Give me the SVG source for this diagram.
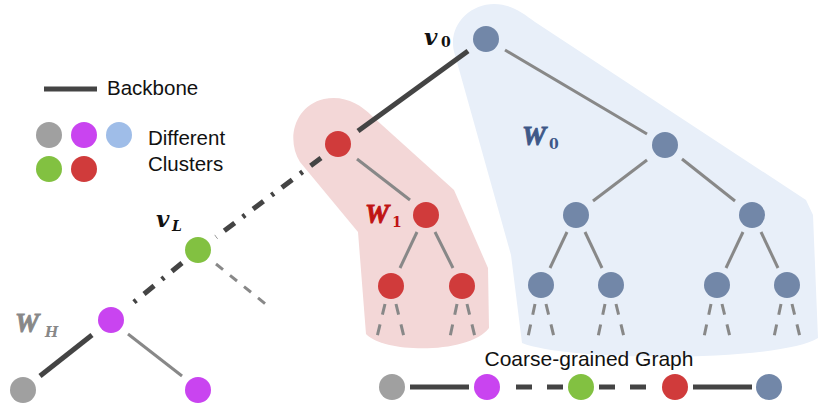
<svg xmlns="http://www.w3.org/2000/svg" width="820" height="414" viewBox="0 0 820 414">
  <style>
    .sans { font-family: "Liberation Sans", Arial, sans-serif; fill: #111; }
    .math { font-family: "DejaVu Serif", "Liberation Serif", serif; font-weight: bold; font-style: italic; }
    .mathw { font-family: "Liberation Serif", "Times New Roman", serif; font-weight: bold; font-style: italic; stroke-width: 0.9; }
    .sub { font-family: "DejaVu Serif", "Liberation Serif", serif; font-weight: bold; }
    .bb { stroke: #444; stroke-width: 5; fill: none; }
    .bbd { stroke: #444; stroke-width: 5; fill: none; stroke-dasharray: 13 10 3 10; }
    .tr { stroke: #888; stroke-width: 3; fill: none; }
    .trd { stroke: #888; stroke-width: 3; fill: none; stroke-dasharray: 11 10; }
    .gray { fill: #a0a0a0; }
    .mag { fill: #c944f0; }
    .lblue { fill: #9fbde8; }
    .green { fill: #82c141; }
    .red { fill: #d03b3b; }
    .blue { fill: #7287a8; }
  </style>

  <!-- cluster regions -->
  <g id="cluster-w0">
    <path d="M 455 55 C 446 28 468 4 494 4 C 510 4 522 12 535 22 L 806 200 L 813 215 L 818 338 C 780 362 570 362 522 343 L 511 255 L 490 180 Z" fill="#e8eff9"/>
  </g>
  <g id="cluster-w1">
    <path d="M 300 162 C 286 140 294 106 324 99 C 344 95 360 104 372 116 L 454 190 L 488 268 L 489 328 C 470 354 385 354 366 334 L 358 232 Z" fill="#f3d7d7"/>
  </g>

  <!-- legend -->
  <g id="legend">
    <line x1="44" y1="89" x2="97" y2="89" class="bb"/>
    <text x="107" y="95" class="sans" font-size="20.5">Backbone</text>
    <circle cx="49" cy="135" r="13" class="gray"/>
    <circle cx="84" cy="135" r="13" class="mag"/>
    <circle cx="119" cy="135" r="13" class="lblue"/>
    <circle cx="49" cy="169" r="13" class="green"/>
    <circle cx="84" cy="169" r="13" class="red"/>
    <text x="148" y="145" class="sans" font-size="20.5">Different</text>
    <text x="148" y="171" class="sans" font-size="20.5">Clusters</text>
  </g>

  <!-- connectors -->
  <g id="connectors">
    <!-- backbone -->
    <line x1="468" y1="51" x2="358" y2="131" class="bb"/>
    <line x1="321" y1="158" x2="216" y2="237" class="bbd"/>
    <line x1="182" y1="263" x2="128" y2="307" class="bbd"/>
    <line x1="92" y1="335" x2="40" y2="376" class="bb"/>
    <!-- side branches near the bottom -->
    <line x1="128" y1="334" x2="182" y2="376" class="tr"/>
    <line x1="216" y1="264" x2="268" y2="306" class="tr" stroke-dasharray="9 9"/>
    <!-- blue tree -->
    <line x1="505" y1="50" x2="647" y2="134" class="tr"/>
    <line x1="647" y1="160" x2="593" y2="201" class="tr"/>
    <line x1="682" y1="159" x2="735" y2="201" class="tr"/>
    <line x1="567" y1="232" x2="550" y2="268" class="tr"/>
    <line x1="585" y1="232" x2="602" y2="268" class="tr"/>
    <line x1="743" y1="232" x2="726" y2="268" class="tr"/>
    <line x1="761" y1="232" x2="778" y2="268" class="tr"/>
    <!-- red tree -->
    <line x1="357" y1="159" x2="410" y2="200" class="tr"/>
    <line x1="417" y1="232" x2="400" y2="268" class="tr"/>
    <line x1="435" y1="232" x2="453" y2="268" class="tr"/>
    <!-- leaf stubs -->
    <g class="trd">
      <line x1="385" y1="304" x2="377" y2="337"/>
      <line x1="396" y1="304" x2="404" y2="337"/>
      <line x1="457" y1="304" x2="450" y2="337"/>
      <line x1="467" y1="304" x2="475" y2="337"/>
      <line x1="535" y1="304" x2="528" y2="337"/>
      <line x1="546" y1="304" x2="554" y2="337"/>
      <line x1="605" y1="304" x2="598" y2="337"/>
      <line x1="616" y1="304" x2="624" y2="337"/>
      <line x1="711" y1="304" x2="704" y2="337"/>
      <line x1="722" y1="304" x2="730" y2="337"/>
      <line x1="781" y1="304" x2="774" y2="337"/>
      <line x1="792" y1="304" x2="800" y2="337"/>
    </g>
    <!-- coarse-grained chain -->
    <line x1="410" y1="387" x2="469" y2="387" class="bb"/>
    <line x1="516" y1="387" x2="564" y2="387" class="bb" stroke-dasharray="16 15"/>
    <line x1="599" y1="387" x2="658" y2="387" class="bb" stroke-dasharray="16 15"/>
    <line x1="693" y1="387" x2="752" y2="387" class="bb"/>
  </g>

  <!-- tree nodes -->
  <g id="node-v0"><circle cx="486" cy="39" r="13" class="blue"/></g>
  <g id="node-b1"><circle cx="665" cy="145" r="13" class="blue"/></g>
  <g id="node-b2"><circle cx="576" cy="215" r="13" class="blue"/></g>
  <g id="node-b3"><circle cx="752" cy="215" r="13" class="blue"/></g>
  <g id="node-b4"><circle cx="541" cy="285" r="13" class="blue"/></g>
  <g id="node-b5"><circle cx="611" cy="285" r="13" class="blue"/></g>
  <g id="node-b6"><circle cx="717" cy="285" r="13" class="blue"/></g>
  <g id="node-b7"><circle cx="787" cy="285" r="13" class="blue"/></g>
  <g id="node-r0"><circle cx="338" cy="144" r="13" class="red"/></g>
  <g id="node-r1"><circle cx="426" cy="215" r="13" class="red"/></g>
  <g id="node-r2"><circle cx="391" cy="286" r="13" class="red"/></g>
  <g id="node-r3"><circle cx="462" cy="286" r="13" class="red"/></g>
  <g id="node-vL"><circle cx="198" cy="250" r="13" class="green"/></g>
  <g id="node-m0"><circle cx="111" cy="320" r="13" class="mag"/></g>
  <g id="node-g0"><circle cx="23" cy="390" r="13" class="gray"/></g>
  <g id="node-m1"><circle cx="198" cy="390" r="13" class="mag"/></g>

  <!-- coarse-grained graph -->
  <g id="coarse-graph">
    <text x="589" y="366" class="sans" font-size="21" text-anchor="middle">Coarse-grained Graph</text>
    <circle cx="392" cy="387" r="13" class="gray"/>
    <circle cx="487" cy="387" r="13" class="mag"/>
    <circle cx="581" cy="387" r="13" class="green"/>
    <circle cx="675" cy="387" r="13" class="red"/>
    <circle cx="769" cy="387" r="13" class="blue"/>
  </g>

  <!-- labels -->
  <g id="labels">
    <text x="424" y="45" class="math" font-size="23" fill="#111">v</text>
    <text x="441" y="47" class="sub" font-size="14" fill="#111">0</text>
    <text x="156" y="227" class="math" font-size="23" fill="#111">v</text>
    <text x="172" y="231" class="math" font-size="14" fill="#111">L</text>
    <text x="522" y="145" class="mathw" font-size="27" fill="#3e5888" stroke="#3e5888">W</text>
    <text x="549" y="149" class="sub" font-size="14" fill="#3e5888">0</text>
    <text x="365" y="223" class="mathw" font-size="27" fill="#c01414" stroke="#c01414">W</text>
    <text x="392" y="227" class="sub" font-size="14" fill="#c01414">1</text>
    <text x="15" y="332" class="mathw" font-size="27" fill="#888" stroke="#888">W</text>
    <text x="45" y="337" class="math" font-size="14" fill="#888">H</text>
  </g>
</svg>
